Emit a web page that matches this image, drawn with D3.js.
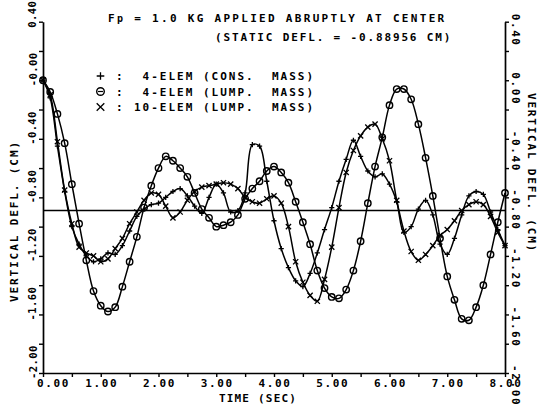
<!DOCTYPE html>
<meta charset="utf-8">
<script src="https://d3js.org/d3.v7.min.js"></script>
<style>
  body { margin: 0; background: #fff; }
  svg text { font-family: "DejaVu Sans Mono", monospace; font-weight: bold; font-size: 11px; fill: #000; white-space: pre; }
</style>
<div id="my_dataviz"></div>
<script>

// time grid (sec)
var times = [0, 0.125, 0.25, 0.375, 0.5, 0.625, 0.75, 0.875,
  1, 1.125, 1.25, 1.375, 1.5, 1.625, 1.75, 1.875,
  2, 2.125, 2.25, 2.375, 2.5, 2.625, 2.75, 2.875,
  3, 3.125, 3.25, 3.375, 3.5, 3.625, 3.75, 3.875,
  4, 4.125, 4.25, 4.375, 4.5, 4.625, 4.75, 4.875,
  5, 5.125, 5.25, 5.375, 5.5, 5.625, 5.75, 5.875,
  6, 6.125, 6.25, 6.375, 6.5, 6.625, 6.75, 6.875,
  7, 7.125, 7.25, 7.375, 7.5, 7.625, 7.75, 7.875, 8];

// vertical deflection (cm)
var consMass4 = [0.00, -0.12, -0.45, -0.76, -1.00, -1.12, -1.20, -1.24,
  -1.22, -1.18, -1.19, -1.13, -1.03, -0.93, -0.88, -0.85,
  -0.84, -0.80, -0.76, -0.74, -0.79, -0.86, -0.91, -0.80,
  -0.71, -0.77, -0.90, -0.89, -0.77, -0.44, -0.45, -0.69,
  -0.96, -1.15, -1.28, -1.37, -1.41, -1.32, -1.18, -1.02,
  -0.87, -0.69, -0.54, -0.41, -0.52, -0.62, -0.66, -0.64,
  -0.71, -0.83, -1.04, -1.00, -0.88, -0.82, -0.92, -1.12,
  -1.19, -1.08, -0.92, -0.79, -0.76, -0.78, -0.90, -1.02, -1.13];

var lumpMass4 = [0.00, -0.08, -0.23, -0.43, -0.71, -0.98, -1.23, -1.44,
  -1.54, -1.58, -1.55, -1.41, -1.24, -1.07, -0.87, -0.72,
  -0.60, -0.52, -0.55, -0.60, -0.66, -0.77, -0.88, -0.94,
  -1.00, -0.99, -0.97, -0.92, -0.81, -0.74, -0.69, -0.62,
  -0.59, -0.63, -0.70, -0.83, -0.97, -1.12, -1.30, -1.42,
  -1.48, -1.49, -1.43, -1.30, -1.10, -0.84, -0.59, -0.39,
  -0.17, -0.06, -0.06, -0.13, -0.30, -0.53, -0.79, -1.08,
  -1.34, -1.50, -1.63, -1.64, -1.55, -1.40, -1.19, -0.97, -0.77];

var lumpMass10 = [0.00, -0.10, -0.42, -0.75, -0.98, -1.14, -1.18, -1.20,
  -1.24, -1.22, -1.15, -1.08, -0.98, -0.90, -0.82, -0.77,
  -0.78, -0.86, -0.94, -0.90, -0.82, -0.76, -0.73, -0.72,
  -0.71, -0.70, -0.71, -0.74, -0.80, -0.83, -0.84, -0.81,
  -0.79, -0.84, -1.00, -1.24, -1.38, -1.47, -1.51, -1.36,
  -1.14, -0.87, -0.63, -0.48, -0.38, -0.32, -0.30, -0.40,
  -0.55, -0.82, -1.03, -1.17, -1.23, -1.19, -1.13, -1.06,
  -1.02, -0.96, -0.89, -0.85, -0.83, -0.85, -0.93, -1.04, -1.13];

var staticDefl = -0.88956;

var yTicks = [0.4, 0, -0.4, -0.8, -1.2, -1.6, -2.0];
var leftTickLabels = ["0.40", "-0.00", "-0.40", "-0.80", "-1.20", "-1.60", "-2.00"];
var rightTickLabels = ["0.40", "0.00", "-0.40", "-0.80", "-1.20", "-1.60", "-2.00"];
var xTicks = [0, 1, 2, 3, 4, 5, 6, 7, 8];
var xTickLabels = ["0.00", "1.00", "2.00", "3.00", "4.00", "5.00", "6.00", "7.00", "8.00"];

var legendSymbols = ["plus", "circle", "cross"];
var legendLabels = [" 4-ELEM (CONS.  MASS)", " 4-ELEM (LUMP.  MASS)", "10-ELEM (LUMP.  MASS)"];

var svg = d3.select("#my_dataviz")
  .append("svg")
    .attr("width", 539)
    .attr("height", 405);

var x = d3.scaleLinear().domain([0, 8]).range([43, 505]);
var y = d3.scaleLinear().domain([0.4, -2.0]).range([21.7, 373]);

// axes with minor ticks, labels drawn separately (rotated)
var yMinor = d3.range(0, 13).map(function(i) { return 0.4 - 0.2 * i; });
var xMinor = d3.range(0, 17).map(function(i) { return 0.5 * i; });

function styleAxis(g) {
  g.selectAll("path").attr("stroke", "#000").attr("stroke-width", 1.7);
  g.selectAll("line").attr("stroke", "#000").attr("stroke-width", 1.4);
}

svg.append("g")
  .attr("transform", "translate(" + x(0) + ",0)")
  .call(d3.axisLeft(y).tickValues(yMinor).tickSize(4).tickSizeOuter(0).tickFormat(""))
  .call(styleAxis);

svg.append("g")
  .attr("transform", "translate(" + x(8) + ",0)")
  .call(d3.axisRight(y).tickValues(yMinor).tickSize(4).tickSizeOuter(0).tickFormat(""))
  .call(styleAxis);

svg.append("g")
  .attr("transform", "translate(0," + y(-2.0) + ")")
  .call(d3.axisBottom(x).tickValues(xMinor).tickSize(4).tickSizeOuter(0).tickFormat(""))
  .call(styleAxis);

// left tick labels
svg.selectAll(".ylabL")
  .data(yTicks)
  .enter().append("text")
    .attr("class", "ylabL")
    .attr("x", 36.5)
    .attr("y", function(d) { return y(d) + 6; })
    .attr("transform", function(d) { return "rotate(-90,36.5," + (y(d) + 6) + ")"; })
    .style("font-size", "10.5px")
    .style("letter-spacing", "0.4px")
    .text(function(d, i) { return leftTickLabels[i]; });

// right tick labels
svg.selectAll(".ylabR")
  .data(yTicks)
  .enter().append("text")
    .attr("class", "ylabR")
    .attr("x", 511.5)
    .attr("y", function(d) { return y(d) - 8; })
    .attr("transform", function(d) { return "rotate(90,511.5," + (y(d) - 8) + ")"; })
    .style("letter-spacing", "1.6px")
    .text(function(d, i) { return rightTickLabels[i]; });

// x tick labels
svg.selectAll(".xlab")
  .data(xTicks)
  .enter().append("text")
    .attr("class", "xlab")
    .attr("x", function(d) { return d === 0 ? x(d) - 6 : x(d) + 1; })
    .attr("y", 387)
    .attr("text-anchor", function(d) { return d === 0 ? "start" : "middle"; })
    .style("letter-spacing", "1.6px")
    .text(function(d, i) { return xTickLabels[i]; });

// axis titles
svg.append("text")
  .attr("x", 258).attr("y", 402)
  .attr("text-anchor", "middle")
  .style("letter-spacing", "1.2px")
  .text("TIME (SEC)");

svg.append("text")
  .attr("x", 17.5).attr("y", 302)
  .attr("transform", "rotate(-90,17.5,302)")
  .style("letter-spacing", "1.9px")
  .text("VERTICAL DEFL. (CM)");

svg.append("text")
  .attr("x", 527.5).attr("y", 93)
  .attr("transform", "rotate(90,527.5,93)")
  .style("letter-spacing", "1.8px")
  .text("VERTICAL DEFL. (CM)");

// title
var t1 = svg.append("text")
  .attr("x", 108).attr("y", 21.7)
  .style("letter-spacing", "2.3px");
t1.append("tspan").text("F");
t1.append("tspan").style("font-size", "10px").text("p");
t1.append("tspan").text(" = 1.0 KG APPLIED ABRUPTLY AT CENTER");

svg.append("text")
  .attr("x", 215).attr("y", 40.5)
  .style("letter-spacing", "1.85px")
  .text("(STATIC DEFL. = -0.88956 CM)");

// static deflection line
svg.append("line")
  .attr("x1", x(0)).attr("x2", x(8))
  .attr("y1", y(staticDefl)).attr("y2", y(staticDefl))
  .attr("stroke", "#000").attr("stroke-width", 1.4);

// curves
var series = [
  {values: consMass4, marker: "plus"},
  {values: lumpMass4, marker: "circle"},
  {values: lumpMass10, marker: "cross"}
];

var line = d3.line()
  .x(function(d) { return x(d[0]); })
  .y(function(d) { return y(d[1]); })
  .curve(d3.curveCatmullRom.alpha(0.5));

function drawMarker(g, kind, cx, cy, s) {
  if (kind === "circle") {
    g.append("circle").attr("cx", cx).attr("cy", cy).attr("r", s)
      .attr("fill", "none").attr("stroke", "#000").attr("stroke-width", 1.4);
  } else if (kind === "plus") {
    g.append("path").attr("d", "M" + (cx - s) + "," + cy + "H" + (cx + s) + "M" + cx + "," + (cy - s) + "V" + (cy + s))
      .attr("stroke", "#000").attr("stroke-width", 1.3);
  } else {
    g.append("path").attr("d", "M" + (cx - s) + "," + (cy - s) + "L" + (cx + s) + "," + (cy + s) +
        "M" + (cx - s) + "," + (cy + s) + "L" + (cx + s) + "," + (cy - s))
      .attr("stroke", "#000").attr("stroke-width", 1.3);
  }
}

series.forEach(function(s) {
  var pts = times.map(function(t, i) { return [t, s.values[i]]; });
  svg.append("path")
    .datum(pts)
    .attr("fill", "none")
    .attr("stroke", "#000")
    .attr("stroke-width", 1.5)
    .attr("d", line);
  var g = svg.append("g");
  pts.forEach(function(p) {
    drawMarker(g, s.marker, x(p[0]), y(p[1]), s.marker === "circle" ? 3.2 : 2.6);
  });
});

// legend
var legendY = [76, 91.5, 107];
legendSymbols.forEach(function(k, i) {
  var g = svg.append("g");
  drawMarker(g, k, 100.5, legendY[i], 3.8);
  if (k === "circle") {
    g.append("line").attr("x1", 98).attr("x2", 103).attr("y1", legendY[i]).attr("y2", legendY[i])
      .attr("stroke", "#000").attr("stroke-width", 1.2);
  }
  svg.append("text").attr("x", 116).attr("y", legendY[i] + 4).text(":");
  svg.append("text")
    .attr("x", 134).attr("y", legendY[i] + 4)
    .style("letter-spacing", "2px")
    .text(legendLabels[i]);
});

</script>
